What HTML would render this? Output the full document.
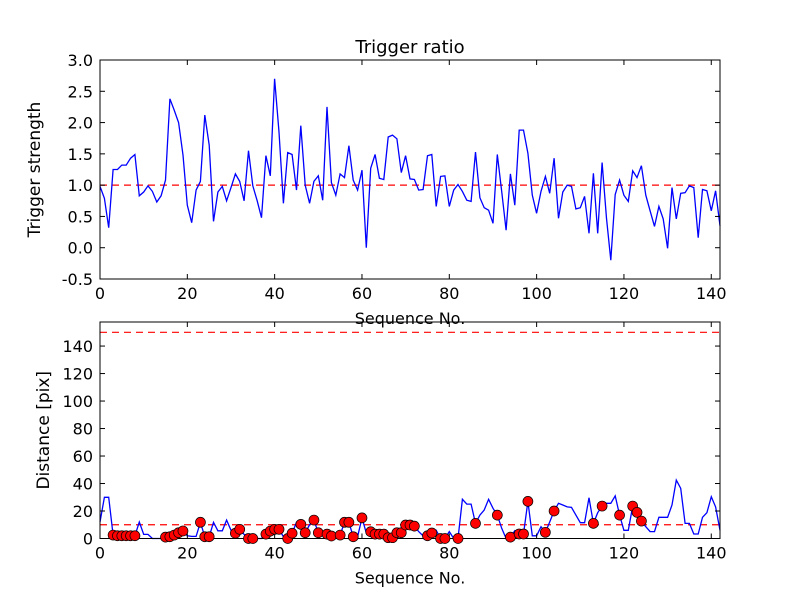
<!DOCTYPE html>
<html><head><meta charset="utf-8"><style>
body{margin:0;background:#fff}
svg text{font-family:"DejaVu Sans","Liberation Sans",sans-serif;fill:#000}
</style></head><body>
<svg id="fig" width="800" height="600" xmlns="http://www.w3.org/2000/svg">
<rect width="800" height="600" fill="#fff"/>
<text x="410" y="53" font-size="18" text-anchor="middle">Trigger ratio</text>
<g id="top"></g>
<g id="bot"></g>
</svg>
<script>
const strength=[0.98,0.79,0.32,1.25,1.25,1.32,1.32,1.43,1.49,0.83,0.89,0.99,0.9,0.73,0.83,1.08,2.38,2.2,2.0,1.48,0.68,0.4,0.92,1.06,2.12,1.64,0.42,0.89,0.98,0.75,0.96,1.18,1.06,0.75,1.55,0.99,0.75,0.48,1.47,1.15,2.7,1.85,0.71,1.52,1.49,0.92,1.95,1.0,0.71,1.06,1.15,0.76,2.25,1.04,0.84,1.18,1.12,1.63,1.08,0.92,1.24,0.0,1.27,1.49,1.11,1.09,1.77,1.8,1.74,1.2,1.47,1.1,1.09,0.92,0.93,1.47,1.49,0.66,1.14,1.15,0.66,0.92,1.01,0.9,0.76,0.74,1.53,0.8,0.64,0.6,0.39,1.49,0.9,0.28,1.18,0.68,1.88,1.88,1.51,0.84,0.55,0.9,1.14,0.87,1.43,0.47,0.89,1.0,0.98,0.62,0.64,0.82,0.23,1.19,0.23,1.36,0.47,-0.2,0.85,1.08,0.84,0.74,1.23,1.12,1.31,0.84,0.59,0.34,0.66,0.46,-0.01,0.96,0.46,0.87,0.88,0.99,0.96,0.16,0.93,0.91,0.59,0.91,0.35];
const distance=[12,30,30,2.5,2,2,2,2,2,12,3,3,0,0,0,1,1.3,2.5,4.2,5.5,2,1.5,1.5,11.8,1.3,1.3,11.8,5.6,5.6,13.4,6,3.8,6.7,3,0,0,0,0,3.2,5.4,6.7,6.7,1.3,0,3.8,11.8,10.3,4.2,10,13.4,4.2,4,3.2,1.8,1.5,2.5,11.8,11.8,1.3,1.3,15,4,4.9,3.2,3.2,3.2,0.6,0.6,4.2,4.2,9.8,9.8,9,5,2,2,4,6,0,0,5,0,0,28.5,25,25,11,17,20.7,28.5,22,17,7.4,0,1,5.7,3.3,3.3,27,2,2,8.6,4.5,12,20,25.6,24.4,23,22.6,17,11.5,11.5,29.7,11,18.8,23.6,25.6,25.6,31,17,6,6,23.6,19,12.7,8.6,5,5,15.4,15.4,15.4,24.4,42.5,36.5,11,11,3.3,3.3,15.4,18.8,30.4,23,6];
const marked=[3,4,5,6,7,8,15,16,17,18,19,23,24,25,31,32,34,35,38,39,40,41,43,44,46,47,49,50,52,53,55,56,57,58,60,62,63,64,65,66,67,68,69,70,71,72,75,76,78,79,82,86,91,94,96,97,98,102,104,113,115,119,122,123,124];
const xTicks=[0,20,40,60,80,100,120,140];
const topTicks=[-0.5,0,0.5,1,1.5,2,2.5,3];
const botTicks=[0,20,40,60,80,100,120,140];
const NS="http://www.w3.org/2000/svg";
function mk(p,t,a){const e=document.createElementNS(NS,t);for(const k in a)e.setAttribute(k,a[k]);p.appendChild(e);return e;}
const X0=100,X1=720,xMax=142;
const sx=v=>X0+v/xMax*(X1-X0);
function axes(g,y0,y1,ymin,ymax,yt,fmt,ylabel,hlines,data,pre,ylx){
  const sy=v=>y1-(v-ymin)/(ymax-ymin)*(y1-y0);
  hlines.forEach(h=>{const l=mk(g,'line',{x1:X0,x2:X1,y1:sy(h),y2:sy(h),stroke:'#f00','stroke-dasharray':'7,5','stroke-width':1.2});
    
    });
  const pts=data.map((v,i)=>sx(i).toFixed(1)+','+sy(v).toFixed(1)).join(' ');
  const pl=mk(g,'polyline',{points:pts,fill:'none',stroke:'#00f','stroke-width':1.3});
  
  
  const fr=mk(g,'rect',{x:X0,y:y0,width:X1-X0,height:y1-y0,fill:'none',stroke:'#000','stroke-width':1});
  
  
  xTicks.forEach(t=>{const x=sx(t);
    mk(g,'line',{x1:x,x2:x,y1:y1,y2:y1-5,stroke:'#000'});mk(g,'line',{x1:x,x2:x,y1:y0,y2:y0+5,stroke:'#000'});
    const tx=mk(g,'text',{x:x,y:y1+20,'font-size':16,'text-anchor':'middle'});tx.textContent=t;
    
    });
  yt.forEach(t=>{const y=sy(t);
    mk(g,'line',{x1:X0,x2:X0+5,y1:y,y2:y,stroke:'#000'});mk(g,'line',{x1:X1,x2:X1-5,y1:y,y2:y,stroke:'#000'});
    const tx=mk(g,'text',{x:X0-7,y:y+6,'font-size':16,'text-anchor':'end'});tx.textContent=fmt(t);
    
    });
  const xl=mk(g,'text',{x:410,y:y1+45,'font-size':16,'text-anchor':'middle'});xl.textContent='Sequence No.';
  
  
  const cy=(y0+y1)/2;
  const yl=mk(g,'text',{x:0,y:0,'font-size':17,'text-anchor':'middle',transform:`translate(${ylx},${cy}) rotate(-90)`});yl.textContent=ylabel;
  
  
  return sy;
}
const gt=document.getElementById('top'),gb=document.getElementById('bot');
axes(gt,60,279,-0.5,3.0,topTicks,t=>t.toFixed(1),'Trigger strength',[1],strength,'top-',40);
const syb=axes(gb,322,538.5,0,157.5,botTicks,t=>String(t),'Distance [pix]',[10,150],distance,'bottom-',49);
marked.forEach(i=>{const c=mk(gb,'circle',{cx:sx(i),cy:syb(distance[i]),r:5,fill:'#f00',stroke:'#000','stroke-width':0.7});
  
  });
</script>
</body></html>
